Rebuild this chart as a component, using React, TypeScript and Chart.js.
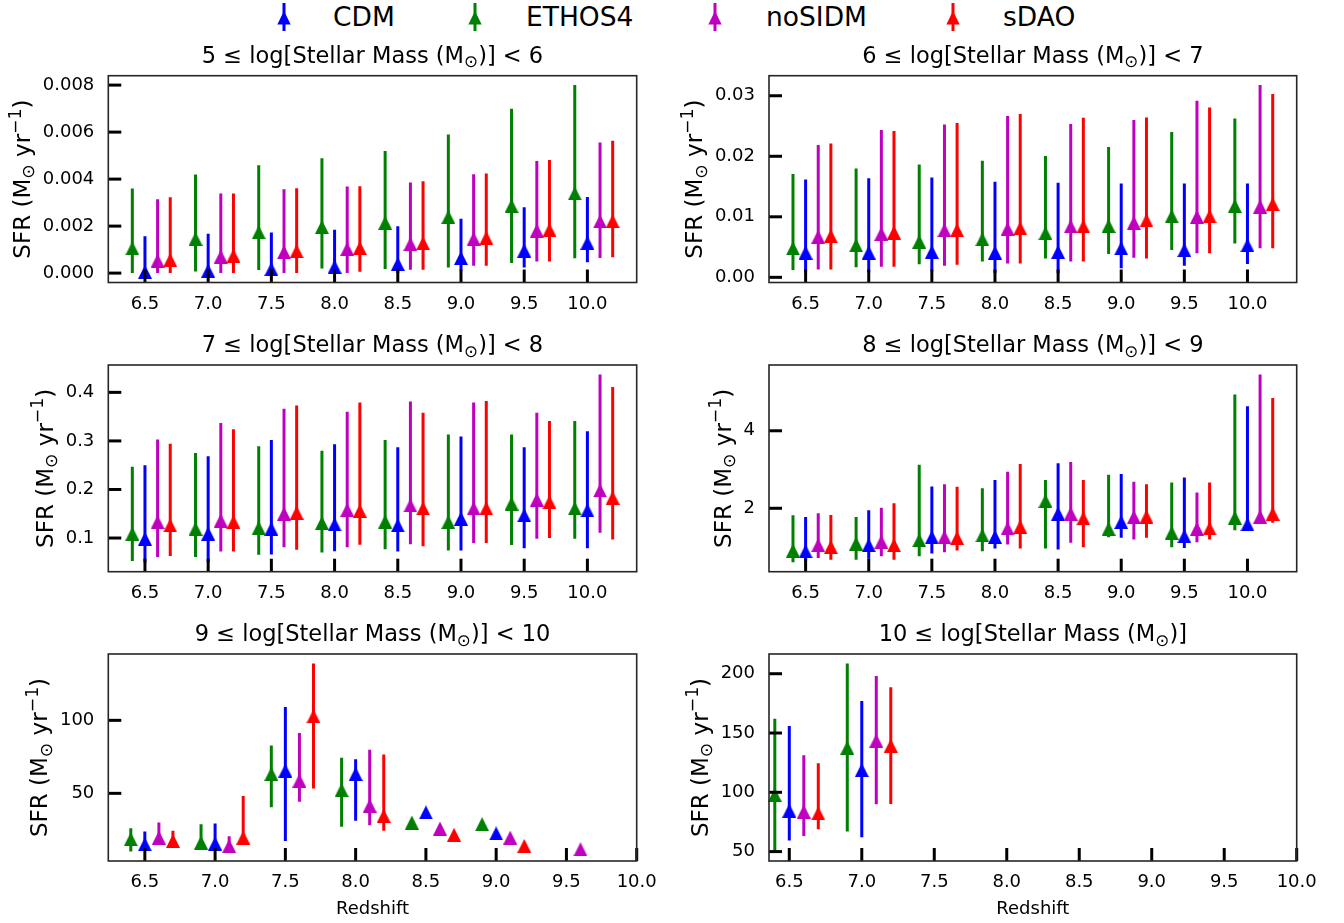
import React, { useEffect, useRef } from 'react';
import { Chart, registerables } from 'chart.js';

Chart.register(...registerables);

const FONT = '"DejaVu Sans", "Noto Sans", sans-serif';

// ---------------- data ----------------
const REDSHIFTS = [6.5, 7.0, 7.5, 8.0, 8.5, 9.0, 9.5, 10.0];
const X_TICKS = [6.5, 7.0, 7.5, 8.0, 8.5, 9.0, 9.5, 10.0];
const SERIES = ['CDM', 'ETHOS4', 'noSIDM', 'sDAO'];
const COLORS = ['#0000ff', '#008000', '#bf00bf', '#ff0000'];
const X_OFFSETS = [0, -0.1, 0.1, 0.2];

type Trip = [number, number, number] | null; // [SFR, lower, upper]

// 5 <= log M* < 6
const M5_CDM: Trip[] = [[0.00005, 0, 0.00157], [0.0001, 0, 0.00167], [0.00017, 0, 0.00173], [0.00027, 0, 0.00184], [0.00039, 0, 0.00199], [0.00064, 0.0001, 0.00231], [0.00096, 0.00024, 0.0028], [0.00129, 0.00046, 0.00324]];
const M5_ETHOS4: Trip[] = [[0.00106, 0, 0.0036], [0.00146, 0.00007, 0.0042], [0.00174, 0.00013, 0.00459], [0.00196, 0.0002, 0.00489], [0.00214, 0.00017, 0.0052], [0.00239, 0.00024, 0.0059], [0.00286, 0.00043, 0.00699], [0.00339, 0.00063, 0.008]];
const M5_NOSIDM: Trip[] = [[0.00053, 0, 0.00314], [0.0007, 0, 0.00339], [0.00089, 0, 0.00357], [0.00103, 0, 0.00369], [0.00124, 0.00014, 0.00386], [0.00146, 0.00031, 0.00421], [0.00181, 0.00049, 0.00477], [0.0022, 0.00064, 0.00556]];
const M5_SDAO: Trip[] = [[0.00056, 0, 0.00323], [0.00074, 0, 0.00339], [0.00093, 0, 0.00361], [0.00107, 0.00006, 0.0037], [0.00127, 0.00014, 0.00391], [0.0015, 0.00031, 0.00424], [0.00184, 0.00049, 0.00481], [0.00221, 0.00067, 0.00563]];

// 6 <= log M* < 7
const M6_CDM: Trip[] = [[0.0041, 0.0008, 0.01618], [0.0041, 0.0008, 0.01635], [0.0042, 0.001, 0.01651], [0.0041, 0.0007, 0.0158], [0.0042, 0.0007, 0.01563], [0.0048, 0.0015, 0.01552], [0.0045, 0.0019, 0.01552], [0.0053, 0.0022, 0.01552]];
const M6_ETHOS4: Trip[] = [[0.0048, 0.0012, 0.01706], [0.0053, 0.00165, 0.018], [0.0059, 0.00215, 0.01866], [0.0063, 0.0026, 0.01926], [0.0073, 0.0031, 0.02003], [0.0085, 0.00385, 0.02152], [0.0101, 0.0045, 0.024], [0.0118, 0.0056, 0.02625]];
const M6_NOSIDM: Trip[] = [[0.0067, 0.0013, 0.02185], [0.0072, 0.00176, 0.02433], [0.0078, 0.0019, 0.02526], [0.008, 0.0023, 0.02664], [0.0084, 0.0026, 0.02532], [0.009, 0.00325, 0.02598], [0.01, 0.004, 0.02917], [0.0117, 0.0048, 0.03176]];
const M6_SDAO: Trip[] = [[0.0068, 0.0013, 0.02212], [0.0074, 0.00176, 0.02416], [0.0078, 0.0021, 0.02548], [0.0081, 0.0023, 0.02697], [0.0084, 0.0026, 0.02636], [0.0094, 0.0031, 0.02642], [0.0101, 0.004, 0.02807], [0.0121, 0.0048, 0.03027]];

// 7 <= log M* < 8
const M7_CDM: Trip[] = [[0.0986, 0.05, 0.25], [0.109, 0.05, 0.2686], [0.119, 0.066, 0.302], [0.128, 0.073, 0.293], [0.126, 0.072, 0.287], [0.14, 0.0745, 0.309], [0.147, 0.079, 0.287], [0.157, 0.079, 0.32]];
const M7_ETHOS4: Trip[] = [[0.109, 0.0525, 0.2466], [0.119, 0.061, 0.275], [0.121, 0.0656, 0.289], [0.131, 0.07, 0.28], [0.134, 0.077, 0.302], [0.133, 0.0745, 0.313], [0.171, 0.0855, 0.313], [0.161, 0.0986, 0.341]];
const M7_NOSIDM: Trip[] = [[0.133, 0.061, 0.303], [0.136, 0.072, 0.337], [0.15, 0.081, 0.366], [0.158, 0.081, 0.36], [0.167, 0.087, 0.381], [0.161, 0.0897, 0.379], [0.179, 0.0986, 0.358], [0.198, 0.111, 0.437]];
const M7_SDAO: Trip[] = [[0.126, 0.063, 0.294], [0.133, 0.072, 0.324], [0.152, 0.076, 0.373], [0.156, 0.086, 0.379], [0.161, 0.083, 0.358], [0.161, 0.0897, 0.382], [0.174, 0.1, 0.341], [0.183, 0.097, 0.411]];

// 8 <= log M* < 9
const M8_CDM: Trip[] = [[0.89, 0.63, 1.775], [1.048, 0.7, 1.948], [1.255, 0.831, 2.563], [1.264, 0.961, 2.727], [1.861, 0.935, 3.16], [1.645, 1.238, 2.883], [1.281, 0.978, 2.797], [1.584, 1.5, 4.632]];
const M8_ETHOS4: Trip[] = [[0.909, 0.606, 1.818], [1.09, 0.675, 1.775], [1.177, 0.762, 3.126], [1.3, 0.89, 2.52], [2.19, 0.961, 2.727], [1.47, 1.255, 2.866], [1.368, 0.996, 2.667], [1.758, 1.43, 4.935]];
const M8_NOSIDM: Trip[] = [[1.048, 0.72, 1.87], [1.134, 0.762, 2.017], [1.255, 0.866, 2.623], [1.48, 1.065, 2.944], [1.861, 1.108, 3.195], [1.775, 1.195, 2.684], [1.472, 1.126, 2.407], [1.784, 1.67, 5.455]];
const M8_SDAO: Trip[] = [[1.0, 0.675, 1.827], [1.048, 0.675, 2.13], [1.238, 0.909, 2.554], [1.524, 0.961, 3.143], [1.74, 0.996, 2.727], [1.784, 1.238, 2.623], [1.48, 1.195, 2.667], [1.861, 1.628, 4.848]];

// 9 <= log M* < 10
const M9_CDM: Trip[] = [[15.1, 10.5, 23.9], [15.6, 10.5, 29.4], [65.6, 17.4, 109.2], [63.3, 31.2, 73.4], [36.9, 36.9, 36.9], [22.5, 22.5, 22.5], null, null];
const M9_ETHOS4: Trip[] = [[18.6, 10.1, 26.1], [16.3, 14.0, 28.9], [63.3, 40.4, 82.8], [52.3, 27.1, 74.3], [30.0, 30.0, 30.0], [28.9, 28.9, 28.9], null, null];
const M9_NOSIDM: Trip[] = [[19.7, 15.6, 30.0], [14.0, 11.7, 20.6], [58.7, 44.3, 91.3], [41.5, 28.2, 79.8], [25.9, 25.9, 25.9], [19.7, 19.7, 19.7], [11.7, 11.7, 11.7], null];
const M9_SDAO: Trip[] = [[17.4, 15.0, 24.3], [19.7, 14.7, 48.2], [102.8, 53.4, 139.0], [34.6, 24.3, 76.6], [21.6, 21.6, 21.6], [14.0, 14.0, 14.0], null, null];

// 10 <= log M*
const M10_CDM: Trip[] = [[84.6, 59.3, 155.9], [118.8, 62.1, 177.0], null, null, null, null, null, null];
const M10_ETHOS4: Trip[] = [[97.8, 50.0, 162.0], [137.6, 66.9, 208.7], null, null, null, null, null, null];
const M10_NOSIDM: Trip[] = [[83.7, 63.2, 131.2], [143.5, 89.9, 198.0], null, null, null, null, null, null];
const M10_SDAO: Trip[] = [[82.3, 68.8, 124.4], [139.3, 90.2, 188.5], null, null, null, null, null, null];

const Y_TICKS_M5 = [0, 0.002, 0.004, 0.006, 0.008];
const Y_TICKS_M6 = [0, 0.01, 0.02, 0.03];
const Y_TICKS_M7 = [0.1, 0.2, 0.3, 0.4];
const Y_TICKS_M8 = [2, 4];
const Y_TICKS_M9 = [50, 100];
const Y_TICKS_M10 = [50, 100, 150, 200];

// title segments: [text, kind] kind 0 normal, 1 subscript, 2 superscript
type Seg = [string, number];
const TITLES: Seg[][] = [
  [['5 ≤ log[Stellar Mass (M', 0], ['⊙', 1], [')] < 6', 0]],
  [['6 ≤ log[Stellar Mass (M', 0], ['⊙', 1], [')] < 7', 0]],
  [['7 ≤ log[Stellar Mass (M', 0], ['⊙', 1], [')] < 8', 0]],
  [['8 ≤ log[Stellar Mass (M', 0], ['⊙', 1], [')] < 9', 0]],
  [['9 ≤ log[Stellar Mass (M', 0], ['⊙', 1], [')] < 10', 0]],
  [['10 ≤ log[Stellar Mass (M', 0], ['⊙', 1], [')]', 0]],
];
const Y_LABEL: Seg[] = [['SFR (M', 0], ['⊙', 1], [' yr', 0], ['−1', 2], [')', 0]];
const X_LABEL = 'Redshift';

const PANEL_SERIES = [
  [M5_CDM, M5_ETHOS4, M5_NOSIDM, M5_SDAO],
  [M6_CDM, M6_ETHOS4, M6_NOSIDM, M6_SDAO],
  [M7_CDM, M7_ETHOS4, M7_NOSIDM, M7_SDAO],
  [M8_CDM, M8_ETHOS4, M8_NOSIDM, M8_SDAO],
  [M9_CDM, M9_ETHOS4, M9_NOSIDM, M9_SDAO],
  [M10_CDM, M10_ETHOS4, M10_NOSIDM, M10_SDAO],
];
const PANEL_YTICKS = [Y_TICKS_M5, Y_TICKS_M6, Y_TICKS_M7, Y_TICKS_M8, Y_TICKS_M9, Y_TICKS_M10];
const PANEL_YDEC = [3, 2, 1, 0, 0, 0];

// ---------------- layout ----------------
const COLS = [
  { left: 0, width: 700, areaLeft: 108.3, areaRight: 636.7 },
  { left: 660, width: 684, areaLeft: 769, areaRight: 1296.7 },
];
const ROWS = [
  { top: 30, height: 290, areaTop: 75.7, areaBottom: 282.5 },
  { top: 320, height: 290, areaTop: 365, areaBottom: 571.7 },
  { top: 610, height: 313, areaTop: 654, areaBottom: 861 },
];
const TICK_FONT = 18;
const TITLE_FONT = 22.5;
const LABEL_FONT = 23;
const MARKER = 14;

function makeTriangle(color: string) {
  const c = document.createElement('canvas');
  c.width = MARKER;
  c.height = MARKER;
  const g = c.getContext('2d')!;
  g.fillStyle = color;
  g.beginPath();
  g.moveTo(MARKER / 2, 0);
  g.lineTo(MARKER, MARKER);
  g.lineTo(0, MARKER);
  g.closePath();
  g.fill();
  return c;
}

function drawRich(ctx: CanvasRenderingContext2D, segs: Seg[], x: number, y: number, size: number) {
  const sizes = segs.map(([, k]) => (k === 0 ? size : size * 0.75));
  let total = 0;
  const widths = segs.map(([t], i) => {
    ctx.font = `${sizes[i]}px ${FONT}`;
    const w = ctx.measureText(t).width;
    total += w;
    return w;
  });
  let cx = x - total / 2;
  ctx.textAlign = 'left';
  ctx.textBaseline = 'alphabetic';
  segs.forEach(([t, k], i) => {
    ctx.font = `${sizes[i]}px ${FONT}`;
    const dy = k === 1 ? size * 0.2 : k === 2 ? -size * 0.4 : 0;
    ctx.fillText(t, cx, y + dy);
    cx += widths[i];
  });
}

const decoPlugin = {
  id: 'deco',
  beforeDatasetDraw(chart: any, args: any) {
    const ds = chart.data.datasets[args.index];
    const meta = args.meta;
    const ys = chart.scales.y;
    const a = chart.chartArea;
    const ctx: CanvasRenderingContext2D = chart.ctx;
    ctx.save();
    ctx.beginPath();
    ctx.rect(a.left, a.top, a.right - a.left, a.bottom - a.top);
    ctx.clip();
    ctx.strokeStyle = ds.borderColor;
    ctx.lineWidth = 3;
    ctx.lineCap = 'butt';
    ds.data.forEach((p: any, i: number) => {
      if (p.hi === p.lo) return;
      const el = meta.data[i];
      ctx.beginPath();
      ctx.moveTo(el.x, ys.getPixelForValue(p.lo));
      ctx.lineTo(el.x, ys.getPixelForValue(p.hi));
      ctx.stroke();
    });
    ctx.restore();
  },
  afterDraw(chart: any, _args: any, opts: any) {
    const ctx: CanvasRenderingContext2D = chart.ctx;
    const a = chart.chartArea;
    const xs = chart.scales.x;
    const ys = chart.scales.y;
    ctx.save();
    // ticks (inside)
    ctx.strokeStyle = '#000';
    ctx.lineWidth = 3;
    xs.ticks.forEach((t: any) => {
      const px = xs.getPixelForValue(t.value);
      ctx.beginPath();
      ctx.moveTo(px, a.bottom);
      ctx.lineTo(px, a.bottom - 13);
      ctx.stroke();
    });
    ys.ticks.forEach((t: any) => {
      const py = ys.getPixelForValue(t.value);
      ctx.beginPath();
      ctx.moveTo(a.left, py);
      ctx.lineTo(a.left + 13, py);
      ctx.stroke();
    });
    // frame
    ctx.strokeStyle = '#262626';
    ctx.lineWidth = 1.6;
    ctx.strokeRect(a.left, a.top, a.right - a.left, a.bottom - a.top);
    // title
    ctx.fillStyle = '#000';
    drawRich(ctx, opts.title, (a.left + a.right) / 2, a.top - 13, TITLE_FONT);
    // y label
    ctx.font = `${TICK_FONT}px ${FONT}`;
    let maxW = 0;
    ys.ticks.forEach((t: any) => {
      maxW = Math.max(maxW, ctx.measureText(String(t.label)).width);
    });
    const ox = a.left - 14 - maxW - 13;
    ctx.translate(ox, (a.top + a.bottom) / 2);
    ctx.rotate(-Math.PI / 2);
    drawRich(ctx, Y_LABEL, 0, 0, LABEL_FONT);
    ctx.restore();
  },
};

function extent(series: Trip[][]) {
  const xs: number[] = [];
  const ys: number[] = [];
  series.forEach((arr, s) =>
    arr.forEach((t, i) => {
      if (!t) return;
      xs.push(REDSHIFTS[i] + X_OFFSETS[s]);
      ys.push(t[0], t[1], t[2]);
    })
  );
  const x0 = Math.min(...xs), x1 = Math.max(...xs);
  const y0 = Math.min(...ys), y1 = Math.max(...ys);
  const xr = x1 - x0, yr = y1 - y0;
  return {
    xmin: Math.min(x0 - 0.05 * xr, X_TICKS[0]),
    xmax: Math.max(x1 + 0.05 * xr, X_TICKS[X_TICKS.length - 1]),
    ymin: y0 - 0.05 * yr,
    ymax: y1 + 0.05 * yr,
  };
}

function Panel({ idx }: { idx: number }) {
  const ref = useRef<HTMLCanvasElement>(null);
  const col = COLS[idx % 2];
  const row = ROWS[Math.floor(idx / 2)];
  const bottomRow = Math.floor(idx / 2) === 2;

  useEffect(() => {
    if (!ref.current) return;
    const series = PANEL_SERIES[idx];
    const lim = extent(series);
    const yTicks = PANEL_YTICKS[idx];
    const dec = PANEL_YDEC[idx];
    const datasets = series.map((arr, s) => ({
      label: SERIES[s],
      data: arr
        .map((t, i) => (t ? { x: REDSHIFTS[i] + X_OFFSETS[s], y: t[0], lo: t[1], hi: t[2] } : null))
        .filter((p) => p !== null),
      borderColor: COLORS[s],
      backgroundColor: COLORS[s],
      pointStyle: makeTriangle(COLORS[s]),
      pointRadius: 7,
      showLine: false,
      order: 3 - s,
      clip: false as any,
    }));
    const xAxisH = row.height - (row.areaBottom - row.top);
    const chart = new Chart(ref.current, {
      type: 'scatter',
      data: { datasets: datasets as any },
      plugins: [decoPlugin as any],
      options: {
        animation: false,
        responsive: false,
        devicePixelRatio: 1,
        events: [],
        layout: {
          padding: {
            left: 0,
            top: row.areaTop - row.top,
            bottom: 0,
            right: col.width - (col.areaRight - col.left),
          },
        },
        plugins: {
          legend: { display: false },
          tooltip: { enabled: false },
          title: { display: false },
          deco: { title: TITLES[idx] },
        } as any,
        scales: {
          x: {
            type: 'linear',
            min: lim.xmin,
            max: lim.xmax,
            grid: { display: false, drawTicks: false },
            border: { display: false },
            ticks: {
              autoSkip: false,
              maxRotation: 0,
              minRotation: 0,
              padding: 11,
              color: '#000',
              font: { family: FONT, size: TICK_FONT },
              callback: (v: any) => Number(v).toFixed(1),
            },
            afterBuildTicks: (s: any) => {
              s.ticks = X_TICKS.map((v) => ({ value: v }));
            },
            afterFit: (s: any) => {
              s.height = xAxisH;
            },
            title: {
              display: bottomRow,
              text: X_LABEL,
              color: '#000',
              font: { family: FONT, size: TICK_FONT },
              padding: { top: 0, bottom: 2.5 },
            },
          },
          y: {
            type: 'linear',
            min: lim.ymin,
            max: lim.ymax,
            grid: { display: false, drawTicks: false },
            border: { display: false },
            ticks: {
              autoSkip: false,
              padding: 14,
              color: '#000',
              font: { family: FONT, size: TICK_FONT },
              callback: (v: any) => Number(v).toFixed(dec),
            },
            afterBuildTicks: (s: any) => {
              s.ticks = yTicks.map((v) => ({ value: v }));
            },
            afterFit: (s: any) => {
              s.width = col.areaLeft - col.left;
            },
          },
        },
      } as any,
    });
    return () => chart.destroy();
  }, [idx]);

  return (
    <canvas
      ref={ref}
      width={col.width}
      height={row.height}
      style={{ position: 'absolute', left: col.left, top: row.top, width: col.width, height: row.height }}
    />
  );
}

const LEGEND_MARKER_X = [284, 475, 715, 953];
const LEGEND_TEXT_X = [333, 526, 766, 1003];

function Legend() {
  return (
    <>
      {SERIES.map((name, s) => (
        <React.Fragment key={name}>
          <svg
            width={20}
            height={34}
            style={{ position: 'absolute', left: LEGEND_MARKER_X[s] - 10, top: 0 }}
          >
            <line x1={10} y1={3} x2={10} y2={31} stroke={COLORS[s]} strokeWidth={3} />
            <polygon points="10,11 3.3,24.5 16.7,24.5" fill={COLORS[s]} />
          </svg>
          <div
            style={{
              position: 'absolute',
              left: LEGEND_TEXT_X[s],
              top: 0,
              height: 34,
              lineHeight: '34px',
              fontSize: 26.5,
              fontFamily: FONT,
              color: '#000',
              whiteSpace: 'nowrap',
            }}
          >
            {name}
          </div>
        </React.Fragment>
      ))}
    </>
  );
}

export default function App() {
  return (
    <div
      style={{
        position: 'absolute',
        left: 0,
        top: 0,
        width: 1344,
        height: 923,
        background: '#fff',
        overflow: 'hidden',
      }}
    >
      <Legend />
      {[0, 1, 2, 3, 4, 5].map((i) => (
        <Panel key={i} idx={i} />
      ))}
    </div>
  );
}
